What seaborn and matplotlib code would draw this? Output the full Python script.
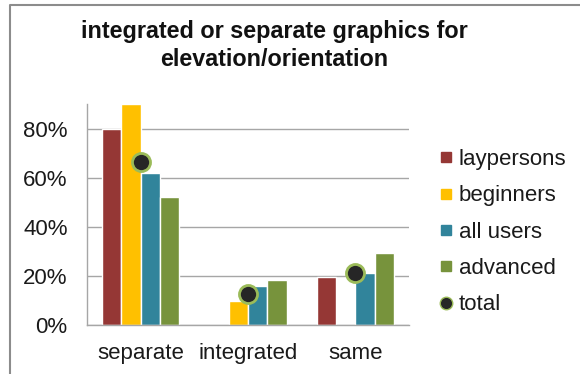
import matplotlib
matplotlib.use("Agg")
import matplotlib.pyplot as plt
from matplotlib.lines import Line2D
from matplotlib.ticker import PercentFormatter, FixedLocator
import pandas as pd
import seaborn as sns

# Survey answers: share of respondents per preference
categories = ["separate", "integrated", "same"]
groups = ["laypersons", "beginners", "all users", "advanced"]
laypersons = [0.80, 0.00, 0.196]
beginners = [0.90, 0.098, 0.00]
all_users = [0.62, 0.16, 0.212]
advanced = [0.52, 0.182, 0.293]
total = [0.663, 0.127, 0.212]
y_ticks = [0.0, 0.2, 0.4, 0.6, 0.8]

colors = ["#953735", "#FFC000", "#31849B", "#77933C"]
dot_face = "#262626"
dot_edge = "#9BBB59"
axis_grey = "#A6A6A6"

bars = pd.DataFrame({
    "category": [c for _ in groups for c in categories],
    "group": [g for g in groups for _ in categories],
    "share": laypersons + beginners + all_users + advanced,
})
totals = pd.DataFrame({"category": categories, "share": total})

sns.set_theme(style="white")
plt.rcParams["font.family"] = ["Liberation Sans", "DejaVu Sans"]

fig = plt.figure(figsize=(5.8, 3.74), dpi=100)
ax = fig.add_axes([87 / 580, 1 - 325 / 374, (409 - 87) / 580, (325 - 104) / 374])

sns.barplot(data=bars, x="category", y="share", hue="group", order=categories,
            hue_order=groups, palette=colors, width=0.72, saturation=1,
            edgecolor="white", linewidth=1.0, errorbar=None, legend=False,
            ax=ax, zorder=2)
sns.pointplot(data=totals, x="category", y="share", order=categories,
              linestyle="none", marker="o", markersize=13, color=dot_face,
              markeredgecolor=dot_edge, markeredgewidth=2, errorbar=None,
              ax=ax, zorder=4)

ax.set_xlim(-0.5, 2.5)
ax.set_ylim(0, 0.9)
ax.yaxis.set_major_locator(FixedLocator(y_ticks))
ax.yaxis.set_major_formatter(PercentFormatter(1.0, decimals=0))
ax.grid(axis="y", color=axis_grey, linewidth=1.0, zorder=0)
ax.set_axisbelow(True)
ax.set_xlabel("")
ax.set_ylabel("")

for side in ["top", "right"]:
    ax.spines[side].set_visible(False)
for side in ["left", "bottom"]:
    ax.spines[side].set_color(axis_grey)
    ax.spines[side].set_linewidth(1.0)

ax.tick_params(axis="y", length=0, pad=14, labelsize=16, labelcolor="#1a1a1a")
ax.tick_params(axis="x", which="major", length=0, pad=13, labelsize=16,
               labelcolor="#1a1a1a")
ax.set_xticks([-0.5, 0.5, 1.5, 2.5], minor=True)
ax.tick_params(axis="x", which="minor", length=4, width=1.0, color=axis_grey,
               direction="out")

# legend on the right
handles = [Line2D([], [], linestyle="none", marker="s", markersize=7,
                  markerfacecolor=c, markeredgecolor=c) for c in colors]
handles.append(Line2D([], [], linestyle="none", marker="o", markersize=9,
                      markerfacecolor=dot_face, markeredgecolor=dot_edge,
                      markeredgewidth=1))
fig.legend(handles, groups + ["total"], loc="upper left",
           bbox_to_anchor=(439 / 580, 1 - 149 / 374), frameon=False,
           fontsize=16, handlelength=0.6, handletextpad=0.3,
           labelspacing=0.69, borderaxespad=0, borderpad=0,
           labelcolor="#1a1a1a")

fig.text(274 / 580, 1 - 20 / 374,
         "integrated or separate graphics for\nelevation/orientation",
         ha="center", va="top", fontsize=16.8, fontweight="bold",
         linespacing=1.25, color="#111111")

# chart frame (left and top edges)
fig.add_artist(Line2D([9.5 / 580, 9.5 / 580, 1.0], [0.0, 1 - 4.5 / 374, 1 - 4.5 / 374],
                      transform=fig.transFigure, color="#8C8C8C", linewidth=1.5))

fig.savefig("out.png", dpi=100)
